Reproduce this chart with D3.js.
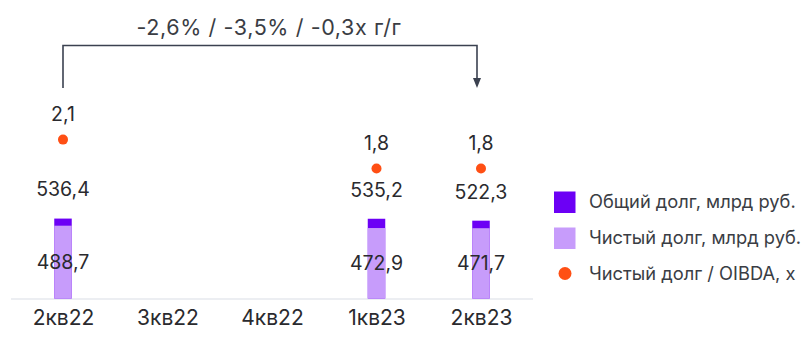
<!DOCTYPE html>
<html>
<head>
<meta charset="utf-8">
<script src="https://cdn.jsdelivr.net/npm/d3@7"></script>
<style>
  html, body { margin: 0; padding: 0; background: #ffffff; }
  svg { display: block; font-family: Inter, "Noto Sans", sans-serif; }
</style>
</head>
<body>
<svg id="chart" width="803" height="338"></svg>
<script>
// Quarters on the x axis
const quarters = ["2кв22", "3кв22", "4кв22", "1кв23", "2кв23"];
// Quarters that have reported figures
const reported = ["2кв22", "1кв23", "2кв23"];
// Total debt, bn RUB
const totalDebt = [536.4, 535.2, 522.3];
// Net debt, bn RUB
const netDebt = [488.7, 472.9, 471.7];
// Net debt / OIBDA, x
const leverage = [2.1, 1.8, 1.8];

const headline = "-2,6% / -3,5% / -0,3x г/г";
const legendItems = [
  { label: "Общий долг, млрд руб.", kind: "rect", color: "#6c00f5" },
  { label: "Чистый долг, млрд руб.", kind: "rect", color: "#c79cfb" },
  { label: "Чистый долг / OIBDA, x", kind: "dot", color: "#ff4f14" }
];

const colTotal = "#6c00f5";
const colNet = "#c79cfb";
const colDot = "#ff4f14";
const textCol = "#2a2a2e";

const fmt = v => d3.format(".1f")(v).replace(".", ",");

const svg = d3.select("#chart");

const x = d3.scalePoint().domain(quarters).range([63, 481]);
const y = d3.scaleLinear().domain([0, 600]).range([298.5, 209.1]);
const yr = d3.scaleLinear().domain([0.5, 2.5]).range([294, 101]);

const rows = reported.map((q, i) => ({
  q, total: totalDebt[i], net: netDebt[i], lev: leverage[i]
}));

const barW = 17.5;

// baseline
svg.append("line")
  .attr("x1", 11).attr("x2", 533)
  .attr("y1", y(0) + 0.5).attr("y2", y(0) + 0.5)
  .attr("stroke", "#eceef2").attr("stroke-width", 2);

// category axis labels
const axis = d3.axisBottom(x).tickSize(0).tickPadding(0);
const gAxis = svg.append("g").attr("transform", `translate(0,${y(0)})`).call(axis);
gAxis.select(".domain").remove();
gAxis.selectAll("text")
  .attr("y", 19.5).attr("dy", "0.35em")
  .attr("font-size", 21).attr("fill", textCol)
  .attr("font-family", "Inter, 'Noto Sans', sans-serif");

// total debt (full bar) and net debt (lower part)
svg.selectAll(".total").data(rows).enter().append("rect")
  .attr("x", d => x(d.q) - barW / 2).attr("width", barW)
  .attr("y", d => y(d.total)).attr("height", d => y(0) - y(d.total))
  .attr("fill", colTotal);
svg.selectAll(".net").data(rows).enter().append("rect")
  .attr("x", d => x(d.q) - barW / 2).attr("width", barW)
  .attr("y", d => y(d.net)).attr("height", d => y(0) - y(d.net))
  .attr("fill", colNet);

// value labels
svg.selectAll(".lblTotal").data(rows).enter().append("text")
  .attr("x", d => x(d.q)).attr("y", d => y(d.total) - 29).attr("dy", "0.35em")
  .attr("text-anchor", "middle").attr("font-size", 19.5).attr("fill", textCol)
  .text(d => fmt(d.total));
svg.selectAll(".lblNet").data(rows).enter().append("text")
  .attr("x", d => x(d.q)).attr("y", d => (y(d.net) + y(0)) / 2).attr("dy", "0.35em")
  .attr("text-anchor", "middle").attr("font-size", 19.5).attr("fill", textCol)
  .text(d => fmt(d.net));

// leverage dots and labels
svg.selectAll(".dot").data(rows).enter().append("circle")
  .attr("cx", d => x(d.q)).attr("cy", d => yr(d.lev)).attr("r", 5)
  .attr("fill", colDot);
svg.selectAll(".lblLev").data(rows).enter().append("text")
  .attr("x", d => x(d.q)).attr("y", d => yr(d.lev) - 25.5).attr("dy", "0.35em")
  .attr("text-anchor", "middle").attr("font-size", 19.5).attr("fill", textCol)
  .text(d => fmt(d.lev));

// year-over-year bracket
const x0 = x(reported[0]);
const x1 = x(reported[reported.length - 1]) - 4;
const topY = 45.5, endY = 88;
svg.append("path")
  .attr("d", `M${x0},${endY} V${topY} H${x1} V${endY - 9}`)
  .attr("fill", "none").attr("stroke", "#3b4150").attr("stroke-width", 1.6);
svg.append("path")
  .attr("d", `M${x1 - 4},${endY - 10} L${x1 + 4},${endY - 10} L${x1},${endY} Z`)
  .attr("fill", "#3b4150");
svg.append("text")
  .attr("x", (x0 + x1) / 2 - 1).attr("y", 27.5).attr("dy", "0.35em")
  .attr("text-anchor", "middle").attr("font-size", 21.5).attr("fill", "#3a3d44")
  .attr("letter-spacing", 0.6)
  .text(headline);

// legend
const lg = svg.append("g").attr("transform", "translate(554,202)");
legendItems.forEach((it, i) => {
  const g = lg.append("g").attr("transform", `translate(0,${i * 36})`);
  if (it.kind === "rect") {
    g.append("rect").attr("x", 0).attr("y", -10.5).attr("width", 21.5).attr("height", 21.5)
      .attr("fill", it.color);
  } else {
    g.append("circle").attr("cx", 11).attr("cy", -0.5).attr("r", 6.5).attr("fill", it.color);
  }
  g.append("text").attr("x", 35).attr("y", 0).attr("dy", "0.35em")
    .attr("font-size", 18.3).attr("fill", "#3a3d44").text(it.label);
});
</script>
</body>
</html>
